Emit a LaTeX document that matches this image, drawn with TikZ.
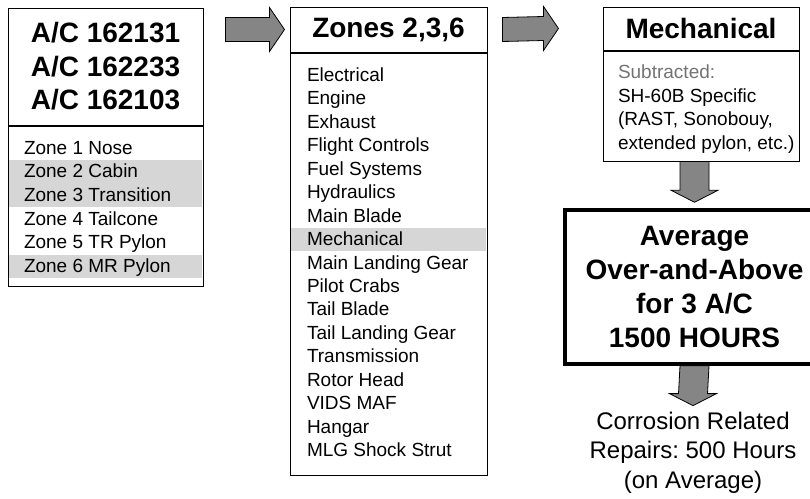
\documentclass[tikz,border=0pt]{standalone}
\usepackage{fontspec}
\setmainfont{Liberation Sans}
\usepackage{xcolor}
\usepackage{tikz}
\usetikzlibrary{positioning, calc, backgrounds}
\frenchspacing

\definecolor{arrowgray}{gray}{0.52}
\definecolor{bandgray}{gray}{0.84}
\definecolor{subgray}{gray}{0.45}

\begin{document}
\begin{tikzpicture}[
    x=1pt, y=-1pt,
    head/.style={rectangle, draw, line width=1pt, inner sep=0pt, align=center, font=\fontsize{28}{33.5}\selectfont\bfseries},
    body/.style={rectangle, draw, line width=1pt, inner sep=0pt},
    item/.style={rectangle, inner sep=0pt, text height=15pt, text depth=3pt, font=\fontsize{19}{23.5}\selectfont},
    total/.style={rectangle, draw, line width=3.5pt, inner sep=0pt, align=center, minimum width=259pt, minimum height=154pt, font=\fontsize{28}{34}\selectfont\bfseries},
    hfat/.style={draw, line width=0.8pt, fill=arrowgray, to path={($(\tikztostart)+(0,-12)$) -- ($(\tikztotarget)+(-15,-12)$) -- ($(\tikztotarget)+(-15,-22)$) -- (\tikztotarget) -- ($(\tikztotarget)+(-15,22)$) -- ($(\tikztotarget)+(-15,12)$) -- ($(\tikztostart)+(0,12)$) -- cycle}},
    vfat/.style={draw, line width=0.8pt, fill=arrowgray, to path={($(\tikztostart)+(-14.5,0)$) -- ($(\tikztotarget)+(-14.5,-12)$) -- ($(\tikztotarget)+(-23.5,-12)$) -- (\tikztotarget) -- ($(\tikztotarget)+(23.5,-12)$) -- ($(\tikztotarget)+(14.5,-12)$) -- ($(\tikztostart)+(14.5,0)$) -- cycle}}
]

\useasboundingbox (0,0) rectangle (810,498);
\clip (0,0) rectangle (810,498);

% aircraft and their zones
\node[head, minimum width=195pt, minimum height=117pt] (achead) at (105.5,66.5) {A/C 162131\\A/C 162233\\A/C 162103};
\node[body, minimum width=195pt, minimum height=160pt, below=0pt of achead] (acbody) {};
\foreach \txt/\fl [count=\i] in {Zone 1 Nose/white, Zone 2 Cabin/bandgray, Zone 3 Transition/bandgray, Zone 4 Tailcone/white, Zone 5 TR Pylon/white, Zone 6 MR Pylon/bandgray}
    \node[item, fill=\fl, minimum width=193pt, minimum height=23.6pt] (zone\i) at ($(acbody.north)+(0,{23.6*\i-0.8})$) {\makebox[163pt][l]{\txt}};

% systems in zones 2,3,6
\node[head, minimum width=197pt, minimum height=45pt] (zhead) at (388.5,29.5) {Zones 2,3,6};
\node[body, minimum width=197pt, minimum height=422pt, below=0pt of zhead] (zbody) {};
\foreach \txt/\fl [count=\i] in {Electrical/white, Engine/white, Exhaust/white, Flight Controls/white, Fuel Systems/white, Hydraulics/white, Main Blade/white, Mechanical/bandgray, Main Landing Gear/white, Pilot Crabs/white, Tail Blade/white, Tail Landing Gear/white, Transmission/white, Rotor Head/white, VIDS MAF/white, Hangar/white, MLG Shock Strut/white}
    \node[item, fill=\fl, minimum width=195pt, minimum height=23.45pt] (sys\i) at ($(zbody.north)+(0,{23.45*\i-0.5})$) {\makebox[163pt][l]{\txt}};

% mechanical
\node[head, minimum width=196pt, minimum height=43pt] (mhead) at (701,28.5) {Mechanical};
\node[body, minimum width=196pt, minimum height=110pt, below=0pt of mhead] (mbody) {};
\foreach \txt/\col [count=\i] in {Subtracted:/subgray, SH-60B Specific/black, {(RAST, Sonobouy,}/black, {extended pylon, etc.)}/black}
    \node[item, text=\col, minimum width=194pt, minimum height=23.6pt] (sub\i) at ($(mbody.north)+(0,{23.6*\i-1.6})$) {\makebox[166pt][l]{\txt}};

% result
\node[total] (avg) at (694.5,287) {Average\\Over-and-Above\\for 3 A/C\\1500 HOURS};
\node[align=center, inner sep=0pt, font=\fontsize{24}{29.5}\selectfont] (corr) at (693,452.5) {Corrosion Related\\Repairs: 500 Hours\\(on Average)};

% block arrows
\coordinate (a1s) at ($(achead.east |- zhead.west)+(22,0)$);
\coordinate (a1e) at ($(zhead.west)+(-5,0)$);
\coordinate (a2s) at ($(zhead.east)+(15,0)$);
\coordinate (a2e) at ($(mhead.west)+(-44,0)$);
\coordinate (d1s) at (mbody.south -| avg.north);
\coordinate (d1e) at ($(avg.north)+(0,-6)$);
\coordinate (d2s) at (avg.south);
\coordinate (d2e) at ($(corr.north)+(0,-6)$);

\draw[hfat] (a1s) to (a1e);
\draw[hfat] (a2s) to (a2e);
\draw[vfat] (d1s) to (d1e);
\draw[vfat] (d2s) to (d2e);

\end{tikzpicture}
\end{document}
